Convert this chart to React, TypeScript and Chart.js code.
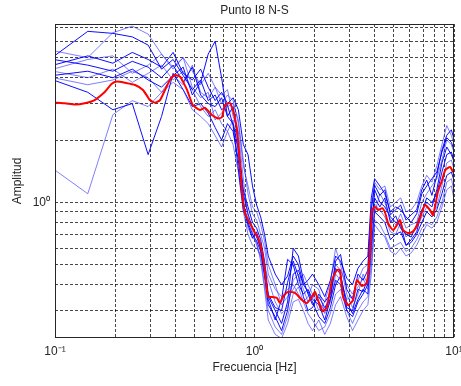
import React, { useEffect, useRef } from "react";
import { Chart, registerables } from "chart.js";

Chart.register(...registerables);

// ---- data ----
const frequencies = [0.098, 0.146, 0.195, 0.244, 0.293, 0.342, 0.391, 0.439, 0.488, 0.537, 0.586, 0.635, 0.684, 0.732, 0.781, 0.83, 0.879, 0.928, 0.977, 1.025, 1.074, 1.123, 1.172, 1.27, 1.367, 1.465, 1.563, 1.66, 1.758, 1.855, 1.953, 2.1, 2.25, 2.4, 2.55, 2.7, 2.9, 3.1, 3.3, 3.5, 3.7, 3.85, 4.0, 4.25, 4.5, 4.8, 5.1, 5.4, 5.75, 6.1, 6.5, 6.9, 7.3, 7.75, 8.2, 8.7, 9.2, 9.7, 10.2];

const meanFrequencies = [0.1, 0.112, 0.126, 0.141, 0.158, 0.178, 0.192, 0.204, 0.224, 0.252, 0.276, 0.299, 0.317, 0.336, 0.356, 0.377, 0.4, 0.424, 0.438, 0.459, 0.475, 0.491, 0.533, 0.565, 0.612, 0.656, 0.687, 0.711, 0.754, 0.78, 0.799, 0.817, 0.846, 0.866, 0.896, 0.928, 0.972, 1.006, 1.041, 1.09, 1.129, 1.169, 1.223, 1.297, 1.342, 1.39, 1.471, 1.595, 1.73, 1.83, 1.94, 2.01, 2.08, 2.2, 2.31, 2.445, 2.59, 2.68, 2.78, 2.94, 3.12, 3.26, 3.46, 3.66, 3.79, 3.88, 4.03, 4.17, 4.37, 4.52, 4.68, 4.95, 5.18, 5.36, 5.55, 5.87, 6.22, 6.59, 7.15, 7.58, 7.85, 8.32, 8.72, 9.03, 9.57, 9.91, 10.2];

const meanCurve = [3.03, 3.01, 2.97, 3.01, 3.12, 3.42, 3.73, 3.83, 3.78, 3.69, 3.49, 3.12, 3.03, 3.12, 3.49, 3.9, 4.12, 4.04, 3.83, 3.49, 3.19, 2.95, 2.79, 2.86, 2.64, 2.54, 2.58, 2.95, 3.01, 2.79, 2.54, 2.24, 1.55, 1.13, 0.888, 0.821, 0.76, 0.711, 0.68, 0.578, 0.46, 0.349, 0.349, 0.345, 0.326, 0.349, 0.369, 0.365, 0.337, 0.326, 0.349, 0.369, 0.337, 0.297, 0.313, 0.42, 0.471, 0.471, 0.349, 0.319, 0.337, 0.42, 0.394, 0.41, 0.57, 0.918, 0.948, 0.918, 0.937, 0.888, 0.79, 0.735, 0.778, 0.821, 0.735, 0.711, 0.72, 0.79, 0.97, 0.918, 0.868, 1.13, 1.28, 1.43, 1.48, 1.4, 1.4];

const window1 = [5.05, 6.7, 6.55, 6.3, 5.75, 4.4, 4.9, 4.1, 3.5, 3.9, 3.1, 3.3, 2.8, 2.95, 2.35, 1.45, 0.92, 0.78, 0.67, 0.72, 0.59, 0.45, 0.34, 0.27, 0.34, 0.53, 0.5, 0.4, 0.36, 0.38, 0.34, 0.32, 0.27, 0.34, 0.52, 0.56, 0.38, 0.34, 0.45, 0.42, 0.47, 0.92, 1.21, 1.08, 1.15, 0.87, 0.92, 0.97, 0.82, 0.87, 0.92, 1.15, 1.28, 1.08, 1.35, 1.79, 2.11, 2.24, 1.89];
const window2 = [5.4, 5.0, 6.6, 7.1, 6.5, 5.2, 4.5, 5.0, 4.3, 3.7, 4.2, 3.6, 3.3, 3.5, 2.6, 2.2, 1.3, 0.85, 0.72, 0.62, 0.55, 0.5, 0.42, 0.33, 0.29, 0.31, 0.42, 0.45, 0.38, 0.33, 0.36, 0.3, 0.33, 0.41, 0.6, 0.5, 0.36, 0.31, 0.36, 0.45, 0.4, 0.6, 0.88, 1.1, 1.0, 0.82, 0.78, 0.88, 0.75, 0.78, 0.8, 1.0, 1.1, 1.2, 1.3, 1.6, 2.0, 1.9, 1.65];
const window3 = [4.9, 4.6, 4.3, 4.8, 4.5, 4.0, 4.6, 3.8, 4.5, 3.3, 3.0, 2.9, 3.2, 2.6, 2.9, 1.9, 1.15, 0.95, 0.8, 0.75, 0.66, 0.52, 0.36, 0.31, 0.3, 0.41, 0.52, 0.44, 0.35, 0.3, 0.31, 0.36, 0.33, 0.36, 0.48, 0.45, 0.31, 0.3, 0.38, 0.37, 0.43, 0.8, 1.05, 0.95, 1.05, 0.8, 0.86, 0.75, 0.7, 0.68, 0.78, 0.92, 1.0, 0.95, 1.15, 1.55, 1.85, 1.7, 1.5];
const window4 = [4.4, 4.9, 5.1, 4.2, 4.6, 5.2, 4.4, 5.0, 3.6, 3.2, 3.4, 2.5, 2.7, 2.9, 3.0, 2.5, 1.6, 1.1, 0.88, 0.82, 0.7, 0.6, 0.45, 0.38, 0.35, 0.38, 0.4, 0.36, 0.33, 0.35, 0.4, 0.38, 0.29, 0.33, 0.45, 0.42, 0.34, 0.35, 0.39, 0.43, 0.38, 0.55, 0.98, 0.92, 0.85, 0.72, 0.7, 0.8, 0.68, 0.72, 0.75, 0.85, 0.95, 0.88, 0.95, 1.2, 1.55, 1.6, 1.35];
const window5 = [4.1, 4.3, 4.0, 4.4, 3.9, 3.6, 4.1, 4.5, 3.3, 3.8, 5.2, 6.0, 4.0, 2.6, 2.4, 1.8, 1.1, 0.88, 0.75, 0.68, 0.6, 0.48, 0.35, 0.3, 0.26, 0.33, 0.6, 0.55, 0.42, 0.36, 0.32, 0.35, 0.31, 0.34, 0.42, 0.4, 0.3, 0.28, 0.33, 0.36, 0.4, 0.7, 1.15, 1.0, 0.95, 0.85, 0.8, 0.78, 0.62, 0.66, 0.72, 0.9, 1.05, 1.0, 1.1, 1.4, 1.7, 1.75, 1.5];
const window6 = [4.0, 3.7, 3.9, 4.3, 4.0, 3.4, 3.8, 3.5, 2.8, 2.6, 2.4, 2.1, 1.85, 2.2, 1.9, 1.4, 0.9, 0.7, 0.62, 0.6, 0.55, 0.4, 0.3, 0.25, 0.23, 0.28, 0.36, 0.39, 0.33, 0.29, 0.27, 0.24, 0.25, 0.29, 0.36, 0.38, 0.3, 0.26, 0.3, 0.33, 0.35, 0.5, 0.82, 0.78, 0.7, 0.6, 0.62, 0.64, 0.58, 0.6, 0.66, 0.75, 0.8, 0.78, 0.85, 1.0, 1.25, 1.3, 1.05];
const window7 = [3.9, 3.4, 2.8, 3.0, 1.7, 2.6, 4.2, 3.5, 2.9, 3.0, 2.7, 2.3, 2.0, 2.4, 2.2, 1.6, 1.0, 0.8, 0.7, 0.65, 0.58, 0.44, 0.32, 0.28, 0.24, 0.3, 0.45, 0.47, 0.4, 0.37, 0.33, 0.28, 0.26, 0.31, 0.4, 0.44, 0.33, 0.29, 0.34, 0.38, 0.36, 0.62, 0.9, 0.85, 0.8, 0.66, 0.7, 0.72, 0.62, 0.64, 0.7, 0.8, 0.9, 0.85, 0.92, 1.1, 1.35, 1.4, 1.2];
const window8 = [1.45, 1.1, 2.65, 3.1, 2.9, 3.4, 4.1, 3.7, 4.6, 3.4, 3.2, 3.6, 3.0, 3.3, 3.1, 2.4, 1.5, 1.2, 0.95, 0.9, 0.78, 0.65, 0.5, 0.4, 0.32, 0.35, 0.38, 0.42, 0.45, 0.4, 0.36, 0.33, 0.3, 0.38, 0.5, 0.47, 0.4, 0.36, 0.42, 0.48, 0.5, 0.95, 1.25, 1.15, 1.2, 0.95, 1.0, 1.05, 0.9, 0.92, 1.0, 1.2, 1.35, 1.25, 1.5, 1.9, 2.35, 2.1, 1.8];
const window9 = [4.6, 5.1, 4.7, 5.3, 4.9, 4.5, 5.3, 4.2, 3.9, 4.4, 3.6, 3.1, 3.4, 3.0, 3.2, 2.8, 1.9, 1.7, 1.2, 0.97, 0.85, 0.7, 0.55, 0.45, 0.4, 0.44, 0.55, 0.5, 0.4, 0.42, 0.45, 0.4, 0.35, 0.42, 0.55, 0.52, 0.43, 0.4, 0.48, 0.52, 0.55, 1.05, 1.3, 1.2, 1.1, 0.9, 0.95, 0.92, 0.85, 0.8, 0.88, 1.1, 1.2, 1.3, 1.4, 1.75, 2.05, 1.95, 1.7];
const window10 = [4.3, 4.0, 4.4, 3.8, 4.2, 4.6, 3.9, 4.3, 3.5, 2.9, 2.6, 2.8, 2.4, 2.2, 2.5, 1.7, 1.0, 0.75, 0.68, 0.64, 0.52, 0.38, 0.27, 0.23, 0.22, 0.26, 0.33, 0.34, 0.3, 0.26, 0.24, 0.27, 0.23, 0.26, 0.32, 0.35, 0.28, 0.24, 0.27, 0.3, 0.32, 0.45, 0.78, 0.72, 0.68, 0.58, 0.56, 0.6, 0.55, 0.57, 0.62, 0.7, 0.78, 0.75, 0.8, 0.95, 1.15, 1.2, 0.95];

const windows = [window1, window2, window3, window4, window5, window6, window7, window8, window9, window10];

const xGridValues = [0.1, 0.2, 0.3, 0.4, 0.5, 0.6, 0.7, 0.8, 0.9, 1, 2, 3, 4, 5, 6, 7, 8, 9, 10];
const yGridValues = [0.3, 0.4, 0.5, 0.6, 0.7, 0.8, 0.9, 1, 2, 3, 4, 5, 6, 7];
const xTickValues = [0.1, 1, 10];
const xTickLabels = ["10\u207B\u00B9", "10\u2070", "10\u00B9"];
const yTickValues = [1];
const yTickLabels = ["10\u2070"];

const titleText = "Punto I8 N-S";
const xTitle = "Frecuencia [Hz]";
const yTitle = "Amplitud";

const FONT = "'Liberation Sans', Arial, Helvetica, sans-serif";
const TEXT = "#262626";
const GRID = "rgba(0,0,0,0.72)";

function labelFor(v: number, vals: number[], labels: string[]) {
  for (let i = 0; i < vals.length; i++) {
    if (Math.abs(v - vals[i]) < 1e-9 * Math.max(1, vals[i])) return labels[i];
  }
  return "";
}

const frame = {
  id: "frame",
  afterDatasetsDraw(chart: any) {
    const { ctx, chartArea: a } = chart;
    ctx.save();
    ctx.setLineDash([]);
    ctx.strokeStyle = TEXT;
    ctx.lineWidth = 1;
    ctx.strokeRect(a.left + 0.5, a.top + 0.5, a.right - a.left - 1, a.bottom - a.top - 1);
    ctx.restore();
  },
};

export default function App() {
  const ref = useRef<HTMLCanvasElement>(null);

  useEffect(() => {
    const canvas = ref.current;
    if (!canvas) return;

    const blueSets = windows.map((vals, i) => ({
      label: "Ventana " + (i + 1),
      data: frequencies.map((f, k) => ({ x: f, y: vals[k] })),
      borderColor: i % 2 === 0 ? "rgba(0,0,255,0.95)" : "rgba(40,40,255,0.6)",
      borderWidth: 1,
      pointRadius: 0,
      tension: 0,
      clip: 0,
    }));

    const chart = new Chart(canvas, {
      type: "line",
      data: {
        datasets: [
          {
            label: "Promedio",
            data: meanFrequencies.map((f, k) => ({ x: f, y: meanCurve[k] })),
            borderColor: "#ff0000",
            borderWidth: 2,
            pointRadius: 0,
            tension: 0.2,
            clip: 0,
          },
          ...blueSets,
        ],
      },
      options: {
        animation: false,
        responsive: true,
        maintainAspectRatio: false,
        events: [],
        layout: { padding: { left: 0, right: 7, top: 0, bottom: 0 } },
        plugins: {
          legend: { display: false },
          tooltip: { enabled: false },
          title: {
            display: true,
            text: titleText,
            fullSize: false,
            color: TEXT,
            font: { family: FONT, size: 12, weight: "normal" },
            padding: { top: 3.5, bottom: 6.1 },
          },
        },
        scales: {
          x: {
            type: "logarithmic",
            min: 0.1,
            max: 10,
            afterBuildTicks: (s: any) => {
              s.ticks = xGridValues.map((v) => ({ value: v }));
            },
            afterFit: (s: any) => {
              s.height = 48;
              s.paddingLeft = 0;
              s.paddingRight = 0;
            },
            ticks: {
              autoSkip: false,
              maxRotation: 0,
              padding: 6,
              color: TEXT,
              font: { family: FONT, size: 12 },
              callback: (v: any) => labelFor(Number(v), xTickValues, xTickLabels),
            },
            grid: { color: GRID, lineWidth: 1, drawTicks: false },
            border: { display: false, dash: [3, 2] },
            title: {
              display: true,
              text: xTitle,
              color: TEXT,
              font: { family: FONT, size: 12 },
              padding: { top: 0, bottom: 10.8 },
            },
          },
          y: {
            type: "logarithmic",
            min: 0.221,
            max: 7.27,
            afterBuildTicks: (s: any) => {
              s.ticks = yGridValues.map((v) => ({ value: v }));
            },
            afterFit: (s: any) => {
              s.width = 55;
              s.paddingTop = 0;
              s.paddingBottom = 0;
            },
            ticks: {
              autoSkip: false,
              padding: 5,
              color: TEXT,
              font: { family: FONT, size: 12 },
              callback: (v: any) => labelFor(Number(v), yTickValues, yTickLabels),
            },
            grid: { color: GRID, lineWidth: 1, drawTicks: false },
            border: { display: false, dash: [3, 2] },
            title: {
              display: true,
              text: yTitle,
              color: TEXT,
              font: { family: FONT, size: 12 },
              padding: { top: 10, bottom: 0 },
            },
          },
        },
      },
      plugins: [frame],
    } as any);

    return () => chart.destroy();
  }, []);

  return (
    <div style={{ position: "fixed", left: 0, top: 0, width: 461, height: 386, background: "#fff" }}>
      <canvas ref={ref} />
    </div>
  );
}
